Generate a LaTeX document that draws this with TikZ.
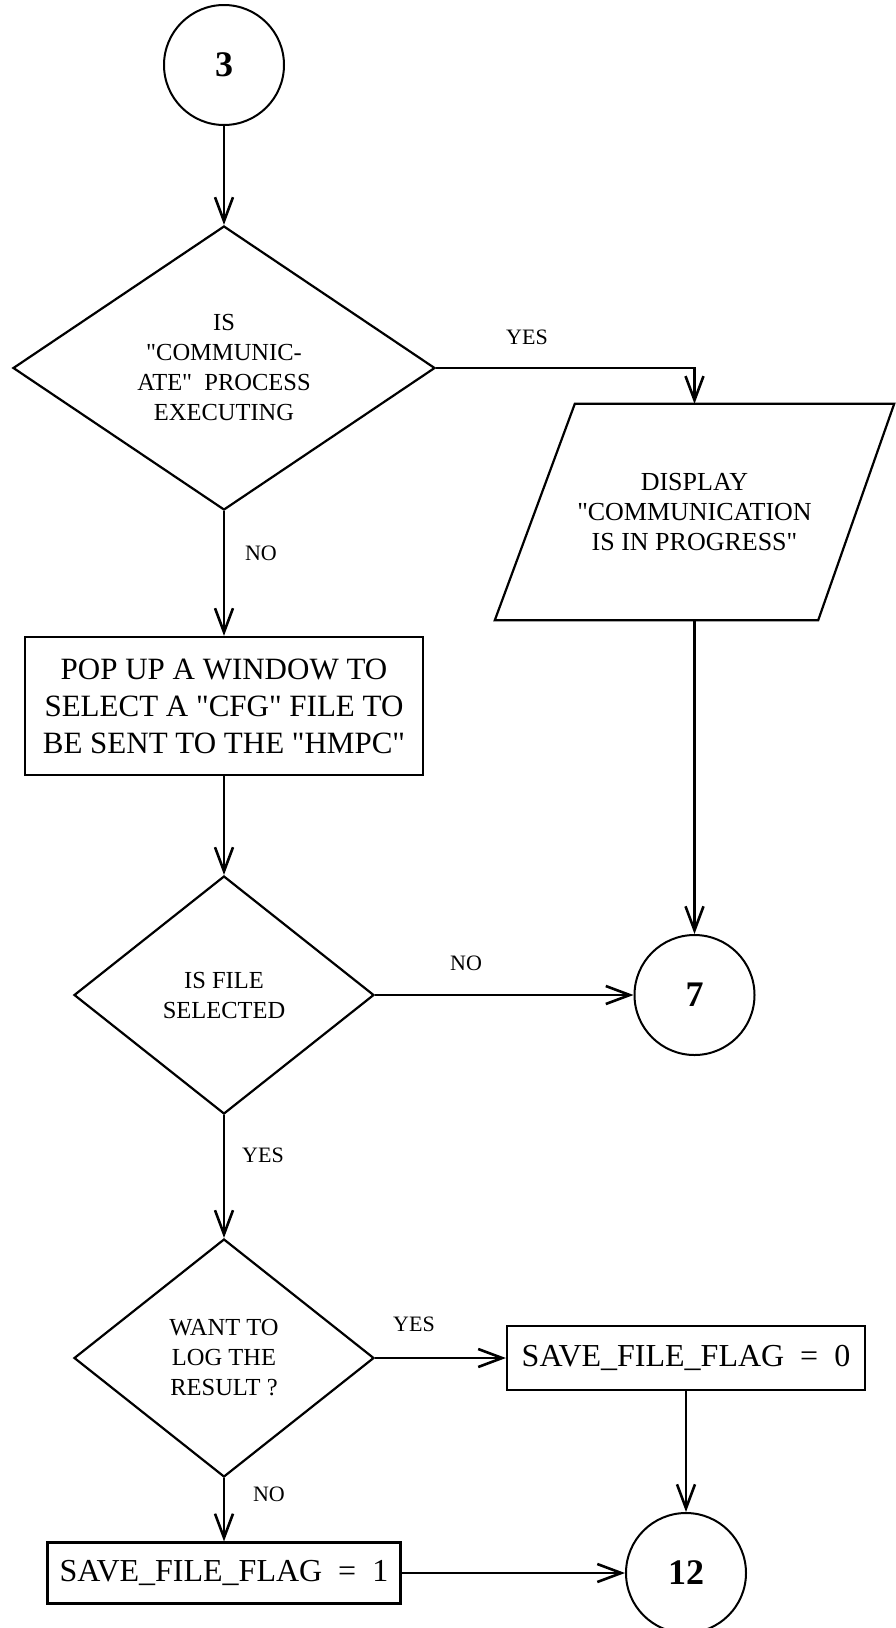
\documentclass[tikz,border=0pt]{standalone}
\usepackage{fontspec}
\setmainfont{Liberation Serif}[Ligatures=TeXOff]
\usetikzlibrary{shapes.geometric,arrows.meta,calc}
\begin{document}
\begin{tikzpicture}[x=1pt,y=-1pt,
  ln/.style={line width=2.2pt},
  arr/.style={line width=2.2pt,-{Straight Barb[length=24pt,width=18pt,line width=2.6pt]}},
  conn/.style={circle,draw,line width=2pt,minimum size=120pt,inner sep=0pt,font=\fontsize{36}{40}\selectfont\bfseries},
  dec/.style={diamond,draw,line width=2.2pt,inner sep=0pt,align=center,font=\fontsize{24.5}{30}\selectfont},
  procbox/.style={rectangle,draw,line width=2.2pt,inner sep=0pt,align=center},
  lbl/.style={font=\fontsize{22}{26}\selectfont,inner sep=0pt},
]
\useasboundingbox (0,0) rectangle (896,1628);

% nodes
\node[conn] (c3) at (224,65) {3};
\node[dec,minimum width=422pt,minimum height=284pt,aspect=1.5] (d1) at (224,368)
  {IS\\"COMMUNIC-\\ATE"~~PROCESS\\EXECUTING};
\node[inner sep=0pt,minimum width=399pt,minimum height=216pt,align=center,
  font=\fontsize{26}{30}\selectfont] (disp) at (694.5,512) {DISPLAY\\"COMMUNICATION\\IS IN PROGRESS"};
\draw[ln] ($(disp.north west)+(80,0)$) -- (disp.north east) -- ($(disp.south east)+(-76,0)$)
  -- (disp.south west) -- cycle;
\node[procbox,minimum width=398pt,minimum height=138pt,font=\fontsize{31}{37}\selectfont] (b1) at (224,706)
  {POP UP A WINDOW TO\\SELECT A "CFG" FILE TO\\BE SENT TO THE "HMPC"};
\node[dec,minimum width=300pt,minimum height=238pt,aspect=1.26] (d2) at (224,995) {IS FILE\\SELECTED};
\node[conn] (c7) at (694.5,995) {7};
\node[dec,minimum width=300pt,minimum height=238pt,aspect=1.26] (d3) at (224,1358) {WANT TO\\LOG THE\\RESULT ?};
\node[procbox,minimum width=358pt,minimum height=64pt,font=\fontsize{32}{36}\selectfont] (b0) at (686,1358)
  {SAVE\_FILE\_FLAG\enspace=\enspace0};
\node[procbox,minimum width=353pt,minimum height=61pt,font=\fontsize{32}{36}\selectfont] (bone) at (224,1573)
  {SAVE\_FILE\_FLAG\enspace=\enspace1};
\node[conn] (c12) at (686,1573) {12};

% labels
\node[lbl] (yes1) at (527,337) {YES};
\node[lbl] (no1) at (261,553) {NO};
\node[lbl] (no2) at (466,963) {NO};
\node[lbl] (yes2) at (263,1155) {YES};
\node[lbl] (yes3) at (414,1324) {YES};
\node[lbl] (no3) at (269,1494) {NO};

% connectors
\draw[arr] (c3.south) -- (d1.north);
\draw[arr] (d1.east) -| (disp.north);
\draw[arr] (d1.south) -- (b1.north);
\draw[arr] (disp.south) -- (c7.north);
\draw[arr] (b1.south) -- (d2.north);
\draw[arr] (d2.east) -- (c7.west);
\draw[arr] (d2.south) -- (d3.north);
\draw[arr] (d3.east) -- (b0.west);
\draw[arr] (b0.south) -- (c12.north);
\draw[arr] (d3.south) -- (bone.north);
\draw[arr] (bone.east) -- (c12.west);
\end{tikzpicture}
\end{document}
